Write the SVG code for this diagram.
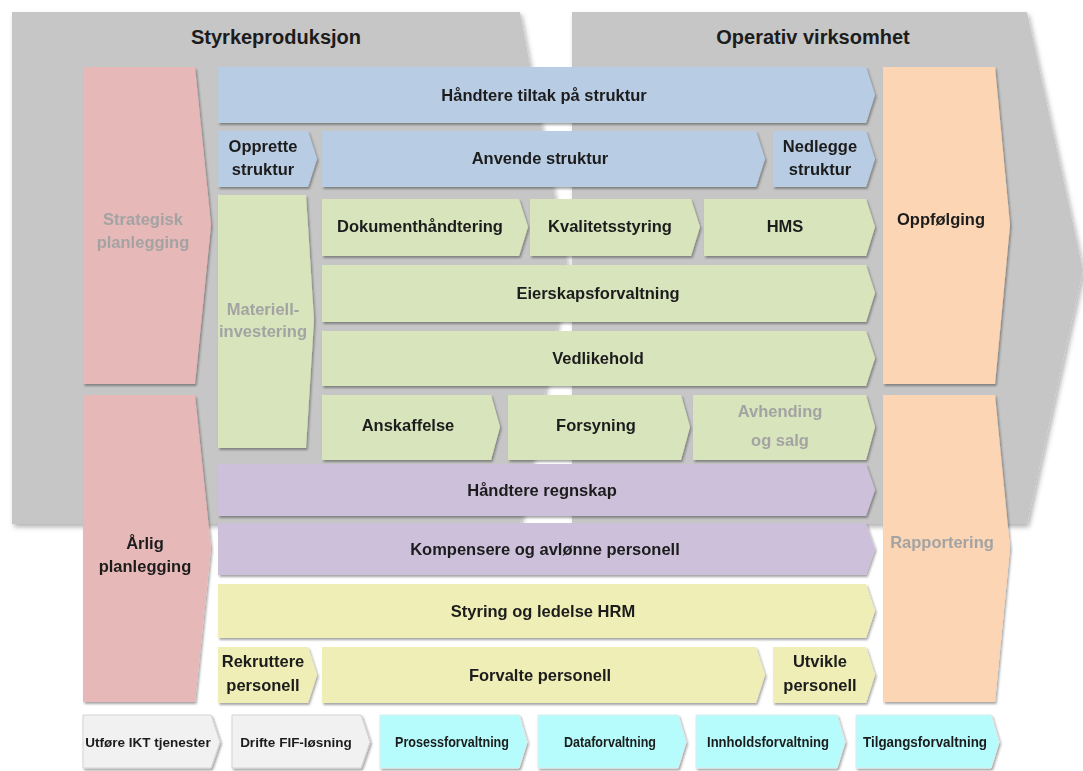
<svg xmlns="http://www.w3.org/2000/svg" width="1083" height="771" viewBox="0 0 1083 771">
  <defs>
    <filter id="sh" x="-10%" y="-10%" width="125%" height="130%">
      <feDropShadow dx="1.5" dy="2" stdDeviation="1.3" flood-color="#000" flood-opacity="0.35"/>
    </filter>
    <filter id="shBig" x="-5%" y="-5%" width="110%" height="110%">
      <feDropShadow dx="2" dy="3" stdDeviation="2.5" flood-color="#000" flood-opacity="0.3"/>
    </filter>
  </defs>
  <style>
    text { font-family: "Liberation Sans", Arial, sans-serif; font-weight: bold; text-anchor: middle; fill: #1c1c1c; }
    .h { font-size: 20px; }
    .t { font-size: 16.5px; }
    .s { font-size: 13.5px; }
    .c { font-size: 14.5px; }
    .dim { fill: #a3a3a3; }
    .panel { fill: #c6c6c6; filter: url(#shBig); }
    .box { filter: url(#sh); }
    .pink { fill: #e6b8b7; }
    .orange { fill: #fcd5b4; }
    .blue { fill: #b8cce4; }
    .green { fill: #d8e4bc; }
    .purple { fill: #ccc0da; }
    .yellow { fill: #eeeeb6; }
    .cyan { fill: #b6fcfc; stroke: #d6eeee; stroke-width: 1; }
    .lgray { fill: #f1f1f1; stroke: #d4d4d4; stroke-width: 1; }
  </style>
  <rect width="1083" height="771" fill="#ffffff"/>

  <!-- background panels -->
  <g id="panel-styrkeproduksjon">
    <path class="panel" d="M12 12 H520 L568 268 L520 524 H12 Z"/>
    <text class="h" x="276" y="44">Styrkeproduksjon</text>
  </g>
  <g id="panel-operativ">
    <path class="panel" d="M572 12 H1027 L1083 270 L1027 524 H572 Z"/>
    <text class="h" x="813" y="44">Operativ virksomhet</text>
  </g>

  <!-- planning column -->
  <g id="strategisk" class="box">
    <path class="pink" d="M83 67 H195 L211 225 L195 384 H83 Z"/>
    <text class="t dim" x="143" y="225">Strategisk</text>
    <text class="t dim" x="143" y="248">planlegging</text>
  </g>
  <g id="arlig" class="box">
    <path class="pink" d="M83 395 H195 L211 548 L195 702 H83 Z"/>
    <text class="t" x="145" y="549">Årlig</text>
    <text class="t" x="145" y="572">planlegging</text>
  </g>

  <!-- follow-up column -->
  <g id="oppfolging" class="box">
    <path class="orange" d="M883 67 H995 L1010 225 L995 384 H883 Z"/>
    <text class="t" x="941" y="225">Oppfølging</text>
  </g>
  <g id="rapportering" class="box">
    <path class="orange" d="M883 395 H995 L1010 548 L995 702 H883 Z"/>
    <text class="t dim" x="942" y="548">Rapportering</text>
  </g>

  <!-- structure -->
  <g id="handtere-tiltak" class="box">
    <path class="blue" d="M218 67 H866 L875 95 L866 123 H218 Z"/>
    <text class="t" x="544" y="101">Håndtere tiltak på struktur</text>
  </g>
  <g id="opprette" class="box">
    <path class="blue" d="M218 131 H308 L317 159 L308 187 H218 Z"/>
    <text class="t" x="263" y="152">Opprette</text>
    <text class="t" x="263" y="175">struktur</text>
  </g>
  <g id="anvende" class="box">
    <path class="blue" d="M322 131 H756 L765 159 L756 187 H322 Z"/>
    <text class="t" x="540" y="164">Anvende struktur</text>
  </g>
  <g id="nedlegge" class="box">
    <path class="blue" d="M773 131 H866 L875 159 L866 187 H773 Z"/>
    <text class="t" x="820" y="152">Nedlegge</text>
    <text class="t" x="820" y="175">struktur</text>
  </g>

  <!-- materiel -->
  <g id="materiell" class="box">
    <path class="green" d="M218 195 H306 L314 320 L306 448 H218 Z"/>
    <text class="t dim" x="263" y="315">Materiell-</text>
    <text class="t dim" x="263" y="337">investering</text>
  </g>
  <g id="dokument" class="box">
    <path class="green" d="M322 199 H519 L528 227 L519 256 H322 Z"/>
    <text class="t" x="420" y="232">Dokumenthåndtering</text>
  </g>
  <g id="kvalitet" class="box">
    <path class="green" d="M530 199 H691 L700 227 L691 256 H530 Z"/>
    <text class="t" x="610" y="232">Kvalitetsstyring</text>
  </g>
  <g id="hms" class="box">
    <path class="green" d="M704 199 H866 L875 227 L866 256 H704 Z"/>
    <text class="t" x="785" y="232">HMS</text>
  </g>
  <g id="eierskap" class="box">
    <path class="green" d="M322 265 H866 L875 293 L866 322 H322 Z"/>
    <text class="t" x="598" y="299">Eierskapsforvaltning</text>
  </g>
  <g id="vedlikehold" class="box">
    <path class="green" d="M322 331 H866 L875 358 L866 386 H322 Z"/>
    <text class="t" x="598" y="364">Vedlikehold</text>
  </g>
  <g id="anskaffelse" class="box">
    <path class="green" d="M322 395 H491 L500 427 L491 460 H322 Z"/>
    <text class="t" x="408" y="431">Anskaffelse</text>
  </g>
  <g id="forsyning" class="box">
    <path class="green" d="M508 395 H681 L690 427 L681 460 H508 Z"/>
    <text class="t" x="596" y="431">Forsyning</text>
  </g>
  <g id="avhending" class="box">
    <path class="green" d="M693 395 H866 L875 427 L866 460 H693 Z"/>
    <text class="t dim" x="780" y="417">Avhending</text>
    <text class="t dim" x="780" y="446">og salg</text>
  </g>

  <!-- finance -->
  <g id="regnskap" class="box">
    <path class="purple" d="M218 464 H866 L875 490 L866 516 H218 Z"/>
    <text class="t" x="542" y="496">Håndtere regnskap</text>
  </g>
  <g id="kompensere" class="box">
    <path class="purple" d="M218 523 H866 L875 549 L866 575 H218 Z"/>
    <text class="t" x="545" y="555">Kompensere og avlønne  personell</text>
  </g>

  <!-- personnel -->
  <g id="styring-hrm" class="box">
    <path class="yellow" d="M218 584 H866 L875 611 L866 638 H218 Z"/>
    <text class="t" x="543" y="617">Styring og ledelse HRM</text>
  </g>
  <g id="rekruttere" class="box">
    <path class="yellow" d="M218 647 H308 L317 675 L308 703 H218 Z"/>
    <text class="t" x="263" y="667">Rekruttere</text>
    <text class="t" x="263" y="691">personell</text>
  </g>
  <g id="forvalte" class="box">
    <path class="yellow" d="M322 647 H756 L765 675 L756 703 H322 Z"/>
    <text class="t" x="540" y="681">Forvalte personell</text>
  </g>
  <g id="utvikle" class="box">
    <path class="yellow" d="M773 647 H866 L875 675 L866 703 H773 Z"/>
    <text class="t" x="820" y="667">Utvikle</text>
    <text class="t" x="820" y="691">personell</text>
  </g>

  <!-- support services -->
  <g id="ikt" class="box">
    <path class="lgray" d="M83 715 H211 L220 742 L211 768 H83 Z"/>
    <text class="s" x="148" y="747">Utføre IKT tjenester</text>
  </g>
  <g id="fif" class="box">
    <path class="lgray" d="M232 715 H361 L370 742 L361 768 H232 Z"/>
    <text class="s" x="296" y="747">Drifte FIF-løsning</text>
  </g>
  <g id="prosess" class="box">
    <path class="cyan" d="M380 715 H519 L527 742 L519 768 H380 Z"/>
    <text class="c" x="452" y="747" textLength="114" lengthAdjust="spacingAndGlyphs">Prosessforvaltning</text>
  </g>
  <g id="data" class="box">
    <path class="cyan" d="M538 715 H678 L686 742 L678 768 H538 Z"/>
    <text class="c" x="610" y="747" textLength="92" lengthAdjust="spacingAndGlyphs">Dataforvaltning</text>
  </g>
  <g id="innhold" class="box">
    <path class="cyan" d="M696 715 H837 L845 742 L837 768 H696 Z"/>
    <text class="c" x="768" y="747" textLength="122" lengthAdjust="spacingAndGlyphs">Innholdsforvaltning</text>
  </g>
  <g id="tilgang" class="box">
    <path class="cyan" d="M856 715 H991 L999 742 L991 768 H856 Z"/>
    <text class="c" x="925" y="747" textLength="124" lengthAdjust="spacingAndGlyphs">Tilgangsforvaltning</text>
  </g>

  <!-- no connectors: the chevrons carry the flow -->
  <g id="connectors"/>
</svg>
